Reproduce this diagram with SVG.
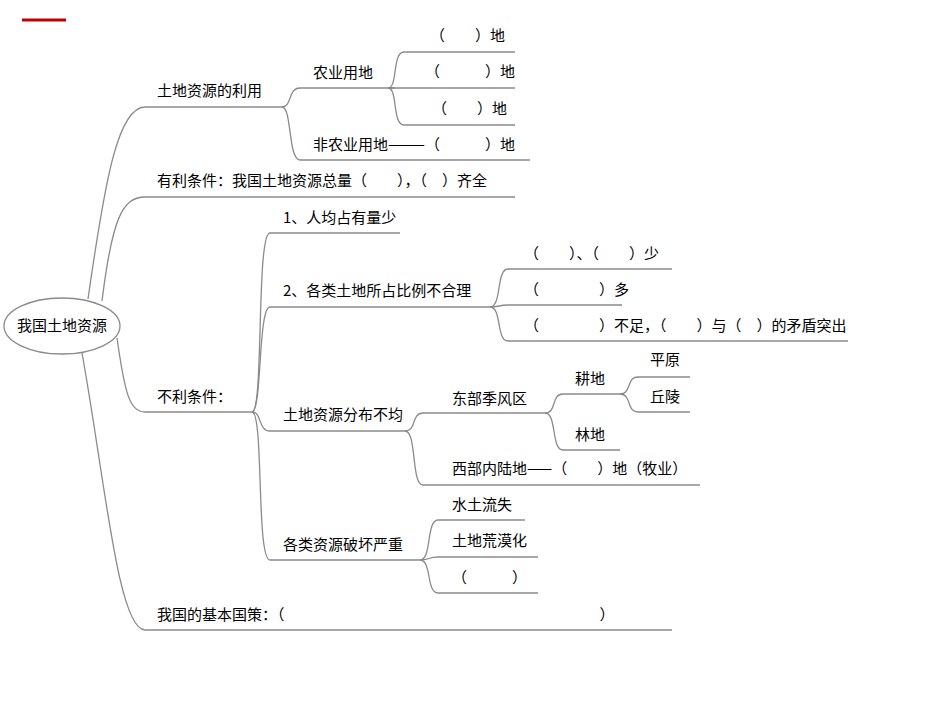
<svg xmlns="http://www.w3.org/2000/svg" width="950" height="713" viewBox="0 0 950 713">
<style>
text{font-family:"Noto Sans CJK SC","Liberation Sans",sans-serif;font-size:15px;fill:#000}
.c path{fill:none;stroke:#8a8a8a;stroke-width:1.3}
</style>
<rect width="950" height="713" fill="#fff"/>
<line x1="22" y1="20" x2="66" y2="20" stroke="#c00000" stroke-width="3"/>
<g id="root"><ellipse cx="62" cy="326" rx="58" ry="28" fill="#fff" stroke="#8a8a8a" stroke-width="1.3"/><text x="62" y="331" text-anchor="middle">我国土地资源</text></g>
<g class="c" id="connectors">
<path d="M88 299 C105 180 118 107 145 107 H282"/>
<path d="M102 301 C112 220 122 197 145 197 H515"/>
<path d="M117 338 C125 395 130 412 145 412 H252"/>
<path d="M82 353 C105 480 118 630 145 630 H672"/>
<path d="M282 107 C292 107 288 88 300 88 H395"/>
<path d="M282 107 C292 107 288 160 300 160 H530"/>
<path d="M388 88 C398 88 392 52 404 52 H515"/>
<path d="M388 88 H515"/>
<path d="M388 88 C398 88 392 125 404 125 H515"/>
<path d="M252 412 C264 412 256 233 270 233 H400"/>
<path d="M252 412 C262 412 258 307 270 307 H490"/>
<path d="M252 412 C262 412 258 431 270 431 H405"/>
<path d="M252 412 C264 412 256 560 270 560 H420"/>
<path d="M490 307 C502 307 496 269 508 269 H672"/>
<path d="M490 307 C500 307 498 305 508 305 H622"/>
<path d="M490 307 C502 307 496 341 508 341 H848"/>
<path d="M405 431 C417 431 411 413 423 413 H545"/>
<path d="M405 431 C417 431 411 485 423 485 H700"/>
<path d="M545 413 C557 413 551 394 563 394 H620"/>
<path d="M545 413 C557 413 551 450 563 450 H620"/>
<path d="M620 394 C632 394 626 377 638 377 H690"/>
<path d="M620 394 C632 394 626 412 638 412 H690"/>
<path d="M420 560 C432 560 426 520 438 520 H525"/>
<path d="M420 560 C430 560 428 557 438 557 H538"/>
<path d="M420 560 C432 560 426 593 438 593 H538"/>
</g>
<g id="n1"><text x="157" y="96">土地资源的利用</text></g>
<g id="n2"><text x="157" y="186">有利条件：我国土地资源总量（　　），（　）齐全</text></g>
<g id="n3"><text x="157" y="402">不利条件：</text></g>
<g id="n4"><text x="157" y="620">我国的基本国策：（　　　　　　　　　　　　　　　　　　　　　）</text></g>
<g id="n5"><text x="313" y="78">农业用地</text></g>
<g id="n6"><text x="313" y="150">非农业用地———（　　　）地</text></g>
<g id="n7"><text x="430" y="41">（　　）地</text></g>
<g id="n8"><text x="425" y="77">（　　　）地</text></g>
<g id="n9"><text x="432" y="114">（　　）地</text></g>
<g id="n10"><text x="283" y="223">1、人均占有量少</text></g>
<g id="n11"><text x="283" y="296">2、各类土地所占比例不合理</text></g>
<g id="n12"><text x="283" y="420">土地资源分布不均</text></g>
<g id="n13"><text x="283" y="550">各类资源破坏严重</text></g>
<g id="n14"><text x="524" y="259">（　　）、（　　）少</text></g>
<g id="n15"><text x="524" y="295">（　　　　）多</text></g>
<g id="n16"><text x="524" y="331">（　　　　）不足，（　　）与（　）的矛盾突出</text></g>
<g id="n17"><text x="452" y="404">东部季风区</text></g>
<g id="n18"><text x="452" y="474">西部内陆地——（　　）地（牧业）</text></g>
<g id="n19"><text x="575" y="384">耕地</text></g>
<g id="n20"><text x="575" y="440">林地</text></g>
<g id="n21"><text x="650" y="365">平原</text></g>
<g id="n22"><text x="650" y="402">丘陵</text></g>
<g id="n23"><text x="452" y="510">水土流失</text></g>
<g id="n24"><text x="452" y="546">土地荒漠化</text></g>
<g id="n25"><text x="452" y="583">（　　　）</text></g>
</svg>
